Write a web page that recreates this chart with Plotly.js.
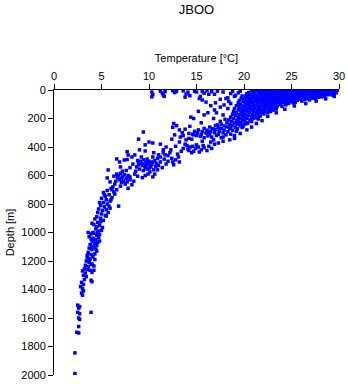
<!DOCTYPE html>
<html>
<head>
<meta charset="utf-8">
<script src="https://cdn.plot.ly/plotly-3.0.1.min.js"></script>
<style>html,body{margin:0;padding:0;background:#fff;}#chart{width:348px;height:384px;}</style>
</head>
<body>
<div id="chart"></div>
<script>
// Axis ticks
const tempTicks = [0, 5, 10, 15, 20, 25, 30];
const depthTicks = [0, 200, 400, 600, 800, 1000, 1200, 1400, 1600, 1800, 2000];

// [temperature °C, depth m] readings, grouped by layer
const surfaceSparse = [
  [10.3,15],[10.4,32],[10.3,48],[11.2,8],[11.4,22],[11.6,45],[11.7,12],[12.5,5],[12.7,18],[12.9,10],
  [13.6,6],[13.9,28],[14.1,15],[14.3,40],[14.8,8],[15.0,14],[15.6,10],[15.8,22],[16.1,5],[16.6,12],
  [16.9,30],[17.2,8],[17.8,14],[18.3,55],[18.8,10],[19.1,38],[19.4,20],[19.6,8],[11.5,35],[13.8,50],
  [15.4,45],[16.3,30],[17.5,65],[18.6,25],[19.9,60],[20.2,40],[15.6,70],[16.0,85],[16.5,110],[16.9,140],
  [17.1,160],[15.3,60],[14.4,190],[14.7,200],[15.2,150],[15.8,175]
];

const mixedLayer = [
  [20.8,3],[21.3,5],[21.9,2],[22.4,4],[22.8,1],[23.3,6],[23.9,3],[24.4,2],[24.9,5],[25.3,1],[25.8,4],[26.3,2],[26.8,6],[27.2,3],[27.7,1],[28.1,5],[28.6,2],[29.0,4],[29.4,1],[29.8,3],
  [21.0,11],[21.6,9],[22.1,12],[22.6,10],[23.1,13],[23.6,8],[24.1,11],[24.6,9],[25.1,12],[25.6,10],[26.0,13],[26.5,8],[27.0,11],[27.5,9],[27.9,12],[28.4,10],[28.8,13],[29.2,9],[29.6,11],
  [20.5,18],[21.1,20],[21.7,17],[22.3,19],[22.9,21],[23.4,16],[23.8,18],[24.3,20],[24.8,17],[25.3,19],[25.7,21],[26.2,16],[26.7,18],[27.1,20],[27.6,17],[28.0,19],[28.5,21],[28.9,16],[29.3,18],[29.7,20],
  [20.3,26],[20.9,28],[21.5,25],[22.0,27],[22.5,29],[23.0,24],[23.5,26],[24.0,28],[24.5,25],[25.0,27],[25.5,29],[26.0,24],[26.4,26],[26.9,28],[27.4,25],[27.8,27],[28.3,29],[28.7,24],[29.1,26],[29.5,28],
  [20.6,34],[21.2,36],[21.8,33],[22.4,35],[22.8,37],[23.3,32],[23.8,34],[24.3,36],[24.8,33],[25.2,35],[25.7,37],[26.2,32],[26.6,34],[27.1,36],[27.6,33],[28.0,35],[28.5,37],[28.9,33],[29.3,35],
  [19.8,42],[20.4,44],[21.0,41],[21.6,43],[22.2,45],[22.7,40],[23.2,42],[23.7,44],[24.2,41],[24.7,43],[25.1,45],[25.6,40],[26.1,42],[26.6,44],[27.0,41],[27.5,43],[28.0,45],[28.4,41],
  [20.2,50],[20.8,52],[21.4,49],[21.9,51],[22.4,53],[22.9,48],[23.4,50],[23.9,52],[24.4,49],[24.9,51],[25.4,53],[25.9,48],[26.3,50],[26.8,52],[27.3,49],[27.8,51],[28.2,48],
  [19.7,58],[20.5,60],[21.1,57],[21.7,59],[22.2,61],[22.7,56],[23.2,58],[23.7,60],[24.2,57],[24.7,59],[25.2,61],[25.6,56],[26.1,58],[26.6,60],[27.1,57],[27.5,62],
  [20.0,66],[20.7,68],[21.3,65],[21.9,67],[22.5,69],[23.0,64],[23.5,66],[24.0,68],[24.5,65],[25.0,67],[25.5,69],[25.9,64],[26.4,66],[26.9,70],
  [19.5,74],[20.3,76],[20.9,73],[21.5,75],[22.1,77],[22.6,72],[23.1,74],[23.6,76],[24.1,73],[24.6,75],[25.1,77],[25.6,72],[26.1,78],
  [19.9,82],[20.6,84],[21.2,81],[21.8,83],[22.3,85],[22.8,80],[23.3,82],[23.9,84],[24.4,81],[24.9,83],[25.4,86],
  [19.4,90],[20.1,92],[20.8,89],[21.4,91],[22.0,93],[22.5,88],[23.0,90],[23.6,92],[24.1,89],[24.7,94],[25.2,91],
  [19.6,100],[20.3,102],[21.0,99],[21.6,101],[22.2,103],[22.8,98],[23.3,100],[23.8,102],[24.4,104],
  [19.2,110],[19.9,112],[20.6,109],[21.2,111],[21.8,113],[22.4,108],[23.0,110],[23.5,112],[24.0,115],
  [19.5,120],[20.2,122],[20.9,119],[21.5,121],[22.1,123],[22.7,118],[23.3,121],
  [19.0,130],[19.8,132],[20.5,129],[21.1,131],[21.7,133],[22.3,128],[22.9,130],[23.4,133],
  [19.4,140],[20.1,142],[20.8,139],[21.4,141],[22.0,143],[22.6,138],[23.1,141],
  [18.9,150],[19.7,152],[20.4,149],[21.0,151],[21.6,153],[22.2,148],[22.8,151],
  [19.2,160],[19.9,162],[20.6,159],[21.3,161],[21.9,163],[22.5,158],
  [18.8,170],[19.5,172],[20.2,169],[20.9,171],[21.5,173],[22.1,168],
  [19.1,180],[19.8,182],[20.5,179],[21.1,181],[21.7,183],
  [18.6,190],[19.4,192],[20.1,189],[20.8,191],[21.4,193],
  [18.9,200],[19.6,202],[20.3,199],[20.9,201],[21.5,203],
  [18.4,210],[19.2,212],[19.9,209],[20.6,211],
  [18.7,220],[19.4,222],[20.1,219],[20.8,221],
  [18.2,230],[19.0,232],[19.7,229],[20.4,231],
  [17.6,240],[18.5,242],[19.3,239],[20.0,241],
  [17.0,250],[17.9,252],[18.8,249],[19.6,251],
  [16.4,260],[17.3,262],[18.2,259],[19.1,261],[19.8,263],
  [15.8,270],[16.7,272],[17.6,269],[18.5,271],[19.3,273],
  [15.2,280],[16.1,282],[17.0,279],[17.9,281],[18.8,283],
  [14.8,290],[15.6,292],[16.5,289],[17.4,291],[18.3,293],[19.2,290],
  [15.1,300],[16.0,302],[16.9,299],[17.8,301],[18.6,310],
  [14.6,310],[15.5,312],[16.4,309],[17.3,311],[19.0,320],
  [15.0,320],[16.2,322],[17.1,319],[17.8,330],[16.6,330],[15.4,325],[14.7,315]
];

const mixedLayerFill = [
  [21.6,6],[23.6,15],[25.5,7],[27.4,15],[29.1,7],[22.2,23],[24.1,31],[26.5,22],[28.6,31],[20.9,47],
  [23.0,55],[25.1,47],[27.2,55],[21.3,63],[23.9,71],[26.3,63],[20.4,87],[22.6,95],[24.7,86],[20.6,116],
  [22.6,125],[19.8,146],[21.9,156],[20.0,186],[21.2,196],[19.3,216],[20.3,236],[18.6,258],[19.9,255],
  [17.4,275],[16.2,295],[18.1,315],[14.2,305],[15.8,335],[19.6,305],[20.3,280],[20.8,260],[21.3,235],
  [21.9,215],[22.5,185],[23.4,160],[24.3,135],[25.3,112],[26.5,95],[27.6,78],[28.6,62],[29.5,45],
  [18.1,60],[18.4,80],[17.9,105],[18.3,130],[17.8,175],[18.0,205],[17.5,220],[17.2,245],[16.8,200],
  [17.5,120],[18.6,95],[19.0,45],[17.0,90],[16.2,160],[15.5,230],[14.3,255],[13.8,275],[14.2,340],[13.6,320]
];

const thermocline = [
  [12.6,235],[12.9,250],[12.5,262],[13.2,280],[13.5,300],[12.7,315],[13.3,330],[12.4,345],
  [9.4,295],[8.9,345],[10.0,365],[10.4,372],[9.6,385],
  [11.2,380],[11.8,400],[12.3,420],[11.5,440],[12.8,395],[13.0,450],[11.0,455],[12.0,460],
  [14.0,390],[14.3,400],[14.6,395],[14.9,410],[15.2,400],[15.5,420],[14.2,425],[14.7,430],
  [15.0,385],[15.8,405],[16.1,425],[14.5,440],[15.3,435],[13.6,410],[13.8,380],[16.3,395],
  [17.3,372],[16.8,350],[17.6,335],[13.9,350],[14.5,345],[15.6,360],[16.5,365],[13.2,365],
  [7.7,433],[7.8,456],[8.5,456],[9.6,428],[6.6,484],[7.4,491],[7.7,488],
  [8.8,495],[9.1,505],[9.4,490],[9.7,510],[10.0,500],[10.3,520],[10.6,495],[10.8,515],
  [8.9,525],[9.3,530],[9.6,545],[9.9,525],[10.2,540],[10.5,560],[9.0,555],[9.4,565],
  [8.7,540],[10.9,480],[11.2,470],[11.6,485],[12.0,500],[12.4,480],[11.8,520],[12.8,490],
  [13.2,505],[12.6,525],[11.4,545],[11.0,530],[10.1,575],[10.6,590],[9.8,485],[10.4,470],[9.2,470],
  [7.0,540],[5.7,561],[6.6,590],[6.8,600],[7.0,585],[7.2,610],[7.4,595],[7.6,620],[6.9,630],
  [7.3,640],[7.1,650],[6.7,615],[7.8,600],[8.0,630],[8.2,665],[7.5,660],[6.4,660],[5.6,617],
  [5.9,645],[8.5,590],[8.8,605],[9.3,615],[8.0,610],[10.4,610],[9.6,600],[6.2,680],[7.0,675],[7.8,690]
];

const thermoclineFill = [
  [11.5,420],[12.2,440],[13.4,430],[14.1,415],[15.7,390],[16.6,410],[16.9,380],[17.8,360],[18.5,350],
  [19.0,340],[13.1,470],[12.5,505],[11.2,505],[10.7,535],[9.8,555],[8.3,520],[8.0,545],[7.6,565],
  [7.2,570],[8.6,570],[9.9,590],[10.9,560],[11.7,455],[10.5,440],[9.0,420],[8.2,470],[6.9,505],
  [7.1,620],[6.5,640],[7.7,645],[8.4,640],[6.3,605],[6.1,700],[6.6,700],[5.3,735],[6.0,770],
  [9.2,515],[9.5,520],[9.8,500],[10.1,510],[10.4,505],[9.0,500],[9.6,535],[10.0,550],[8.9,510]
];

const deepWater = [
  [6.0,690],[5.6,705],[6.3,715],[5.2,720],[5.8,735],[5.4,745],[6.1,755],[5.0,760],[5.5,770],
  [5.9,780],[5.2,790],[5.6,800],[4.9,810],[5.3,820],[5.8,815],[6.8,815],[4.7,835],[5.1,845],
  [5.5,840],[4.6,860],[5.0,870],[5.4,880],[6.4,730],[5.9,830],[4.8,790],[5.7,860],
  [4.5,890],[4.9,900],[5.2,915],[4.6,930],[4.0,935],[4.8,950],[5.1,965],[4.4,975],[4.7,990],[5.5,885],[4.3,905],
  [3.6,1000],[3.9,1010],[4.2,1005],[4.5,1020],[4.8,1015],[3.7,1030],[4.1,1040],[4.4,1050],
  [4.7,1035],[4.0,1060],[4.3,1075],[4.6,1070],[3.8,1085],[4.2,1095],[4.5,1090],[4.8,1060],
  [3.7,1110],[4.0,1120],[4.4,1115],[3.6,1140],[3.9,1155],[4.3,1150],[3.5,1175],[3.8,1185],
  [4.3,1190],[3.4,1200],[3.7,1210],[4.0,1220],[3.3,1230],[3.6,1240],[3.9,1225],[4.2,1235],[4.5,1130],
  [3.8,1265],[4.2,1265],[3.0,1270],[3.3,1285],[3.1,1300],[3.4,1310],[3.9,1335],[4.0,1345],
  [2.9,1350],[3.1,1365],[2.8,1380],[3.0,1395],[3.1,1410],[2.9,1425],[3.0,1440],
  [2.5,1510],[2.7,1520],[2.6,1530],[2.5,1560],[2.7,1570],[3.9,1560],[2.6,1600],[2.7,1610],
  [2.6,1660],[2.4,1700],[2.6,1705],[2.2,1845],[2.2,1990]
];

const deepFill = [
  [4.1,1000],[4.6,1000],[3.9,1045],[4.2,1065],[4.0,1100],[3.5,1160],[3.7,1195],[4.1,1170],
  [3.2,1255],[3.5,1260],[4.0,1280],[3.2,1330],[4.9,925],[4.2,945],[5.0,985],[4.5,960]
];

const layers = [surfaceSparse, mixedLayer, mixedLayerFill, thermocline, thermoclineFill, deepWater, deepFill];
const allPts = layers.flat();

const trace = {
  type: 'scatter',
  mode: 'markers',
  x: allPts.map(p => p[0]),
  y: allPts.map(p => p[1]),
  marker: {symbol: 'square', size: 3.5, color: '#0000ff', line: {width: 0}},
  hoverinfo: 'x+y'
};

const font = {family: 'Liberation Sans, Arial, sans-serif', size: 11, color: '#000'};

const layout = {
  width: 348, height: 384,
  margin: {l: 54, r: 9, t: 90, b: 9},
  paper_bgcolor: '#fff', plot_bgcolor: '#fff',
  showlegend: false,
  font: font,
  title: {text: 'JBOO', x: 0.5, xref: 'paper', xanchor: 'center', y: 0.975, yref: 'container', yanchor: 'middle', font: {family: font.family, size: 13, color: '#000'}},
  xaxis: {
    side: 'top', range: [0, 30], tickvals: tempTicks, ticktext: tempTicks.map(String),
    ticks: 'outside', ticklen: 5, tickcolor: '#000', showline: true, linecolor: '#000', linewidth: 1,
    showgrid: false, zeroline: false, mirror: false,
    title: {text: 'Temperature [°C]', standoff: 4, font: font}
  },
  yaxis: {
    range: [2000, 0], tickvals: depthTicks, ticktext: depthTicks.map(String),
    ticks: 'outside', ticklen: 5, tickcolor: '#000', showline: true, linecolor: '#000', linewidth: 1,
    showgrid: false, zeroline: false, mirror: false,
    title: {text: 'Depth [m]', standoff: 4, font: font}
  }
};

Plotly.newPlot('chart', [trace], layout, {staticPlot: true, displayModeBar: false});
</script>
</body>
</html>
